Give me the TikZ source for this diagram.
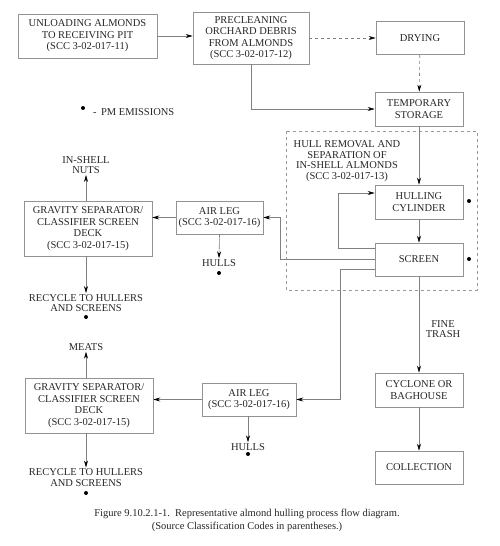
\documentclass[tikz,border=0pt]{standalone}
\usepackage{fontspec}
\setmainfont{Liberation Serif}
\usetikzlibrary{arrows.meta}
\begin{document}
\begin{tikzpicture}[x=1pt, y=-1pt,
  box/.style={draw=gray!85, line width=0.6pt, align=center, inner sep=1pt,
    font=\fontsize{10.5}{11.5}\selectfont, text=black!85},
  lbl/.style={align=center, inner sep=1pt, font=\fontsize{10.5}{10.5}\selectfont, text=black!85},
  pm/.style={circle, fill=black, inner sep=0pt, minimum size=4pt},
  flow/.style={draw=gray, line width=0.6pt, -{Stealth[black, length=7pt, width=4pt]}}]
  \useasboundingbox (0,0) rectangle (500,546);

  % boxes
  \node[box, minimum width=139, minimum height=44] (unload) at (87.5,36) {UNLOADING ALMONDS\\TO RECEIVING PIT\\(SCC 3-02-017-11)};
  \node[box, minimum width=116, minimum height=52] (preclean) at (251,38) {PRECLEANING\\ORCHARD DEBRIS\\FROM ALMONDS\\(SCC 3-02-017-12)};
  \node[box, minimum width=88, minimum height=33] (drying) at (420,38) {DRYING};
  \node[box, minimum width=88, minimum height=34] (storage) at (419,109) {TEMPORARY\\STORAGE};
  \node[box, minimum width=88, minimum height=34] (huller) at (419,202) {HULLING\\CYLINDER};
  \node[box, minimum width=88, minimum height=33] (screen) at (419,259.5) {SCREEN};
  \node[box, minimum width=88, minimum height=34] (cyclone) at (419,390) {CYCLONE OR\\BAGHOUSE};
  \node[box, minimum width=88, minimum height=33] (collect) at (419,467.5) {COLLECTION};
  \node[box, minimum width=87, minimum height=33] (airlegA) at (219.5,217.5) {AIR LEG\\(SCC 3-02-017-16)};
  \node[box, minimum width=128, minimum height=55] (gravA) at (88,228.5) {GRAVITY SEPARATOR/\\CLASSIFIER SCREEN\\DECK\\(SCC 3-02-017-15)};
  \node[box, minimum width=94, minimum height=33] (airlegB) at (249,399.5) {AIR LEG\\(SCC 3-02-017-16)};
  \node[box, minimum width=128, minimum height=55] (gravB) at (89,405.5) {GRAVITY SEPARATOR/\\CLASSIFIER SCREEN\\DECK\\(SCC 3-02-017-15)};

  % hull removal group
  \draw[gray!80, dashed, dash pattern=on 3pt off 3pt, line width=0.6pt] (286,131) rectangle (477,290);
  \node[lbl] (hullgroup) at (347,161) {HULL REMOVAL AND\\SEPARATION OF\\IN-SHELL ALMONDS\\(SCC 3-02-017-13)};

  % outputs
  \node[lbl] (nutsA) at (86,165) {IN-SHELL\\NUTS};
  \node[lbl] (recycA) at (86,303) {RECYCLE TO HULLERS\\AND SCREENS};
  \node[lbl] (hullsA) at (219,263) {HULLS};
  \node[lbl] (meats) at (86,347) {MEATS};
  \node[lbl] (recycB) at (86,477.5) {RECYCLE TO HULLERS\\AND SCREENS};
  \node[lbl] (hullsB) at (248,447) {HULLS};
  \node[lbl] (trash) at (443,329) {FINE\\TRASH};

  % emission points
  \node[pm] (pmHuller) at (469,201) {};
  \node[pm] (pmScreen) at (469,259) {};
  \node[pm] (pmRecycA) at (86,317) {};
  \node[pm] (pmHullsA) at (219,273) {};
  \node[pm] (pmRecycB) at (86,493) {};
  \node[pm] (pmHullsB) at (248,454) {};
  \node[pm] (pmKey) at (83,108) {};
  \node[lbl, anchor=west] (key) at (92,112) {-\, PM EMISSIONS};

  % connectors
  \draw[flow] (unload.east) -- (unload.east -| preclean.west);
  \draw[flow, dashed] (preclean.east) -- (drying.west);
  \draw[flow, dashed] (drying) -- (storage);
  \draw[flow] (preclean.south) |- (storage.west);
  \draw[flow] (storage) -- (huller);
  \draw[flow] (huller) -- (screen);
  \draw[flow] ([yshift=11.5pt]screen.west) -- ++(-36,0) |- ([yshift=9pt]huller.west);
  \draw[flow] (screen.west) -- ++(-94,0) |- (airlegA.east);
  \draw[flow] ([yshift=-9.5pt]screen.west) -- ++(-34,0) |- (airlegB.east);
  \draw[flow] (screen) -- (cyclone);
  \draw[flow] (cyclone) -- (collect);
  \draw[flow] (airlegA.west) -- (airlegA.west -| gravA.east);
  \draw[flow] (airlegA.south) -- (hullsA.north);
  \draw[flow] (gravA.north -| nutsA) -- (nutsA.south);
  \draw[flow] (gravA.south -| recycA) -- (recycA.north);
  \draw[flow] (airlegB.west) -- (airlegB.west -| gravB.east);
  \draw[flow] (airlegB.south -| hullsB) -- (hullsB.north);
  \draw[flow] (gravB.north -| meats) -- (meats.south);
  \draw[flow] (gravB.south -| recycB) -- (recycB.north);

  % caption
  \node[lbl, font=\fontsize{10.5}{13}\selectfont] (caption) at (247,520.5) {Figure 9.10.2.1-1.\ \ Representative almond hulling process flow diagram.\\(Source Classification Codes in parentheses.)};
\end{tikzpicture}
\end{document}
